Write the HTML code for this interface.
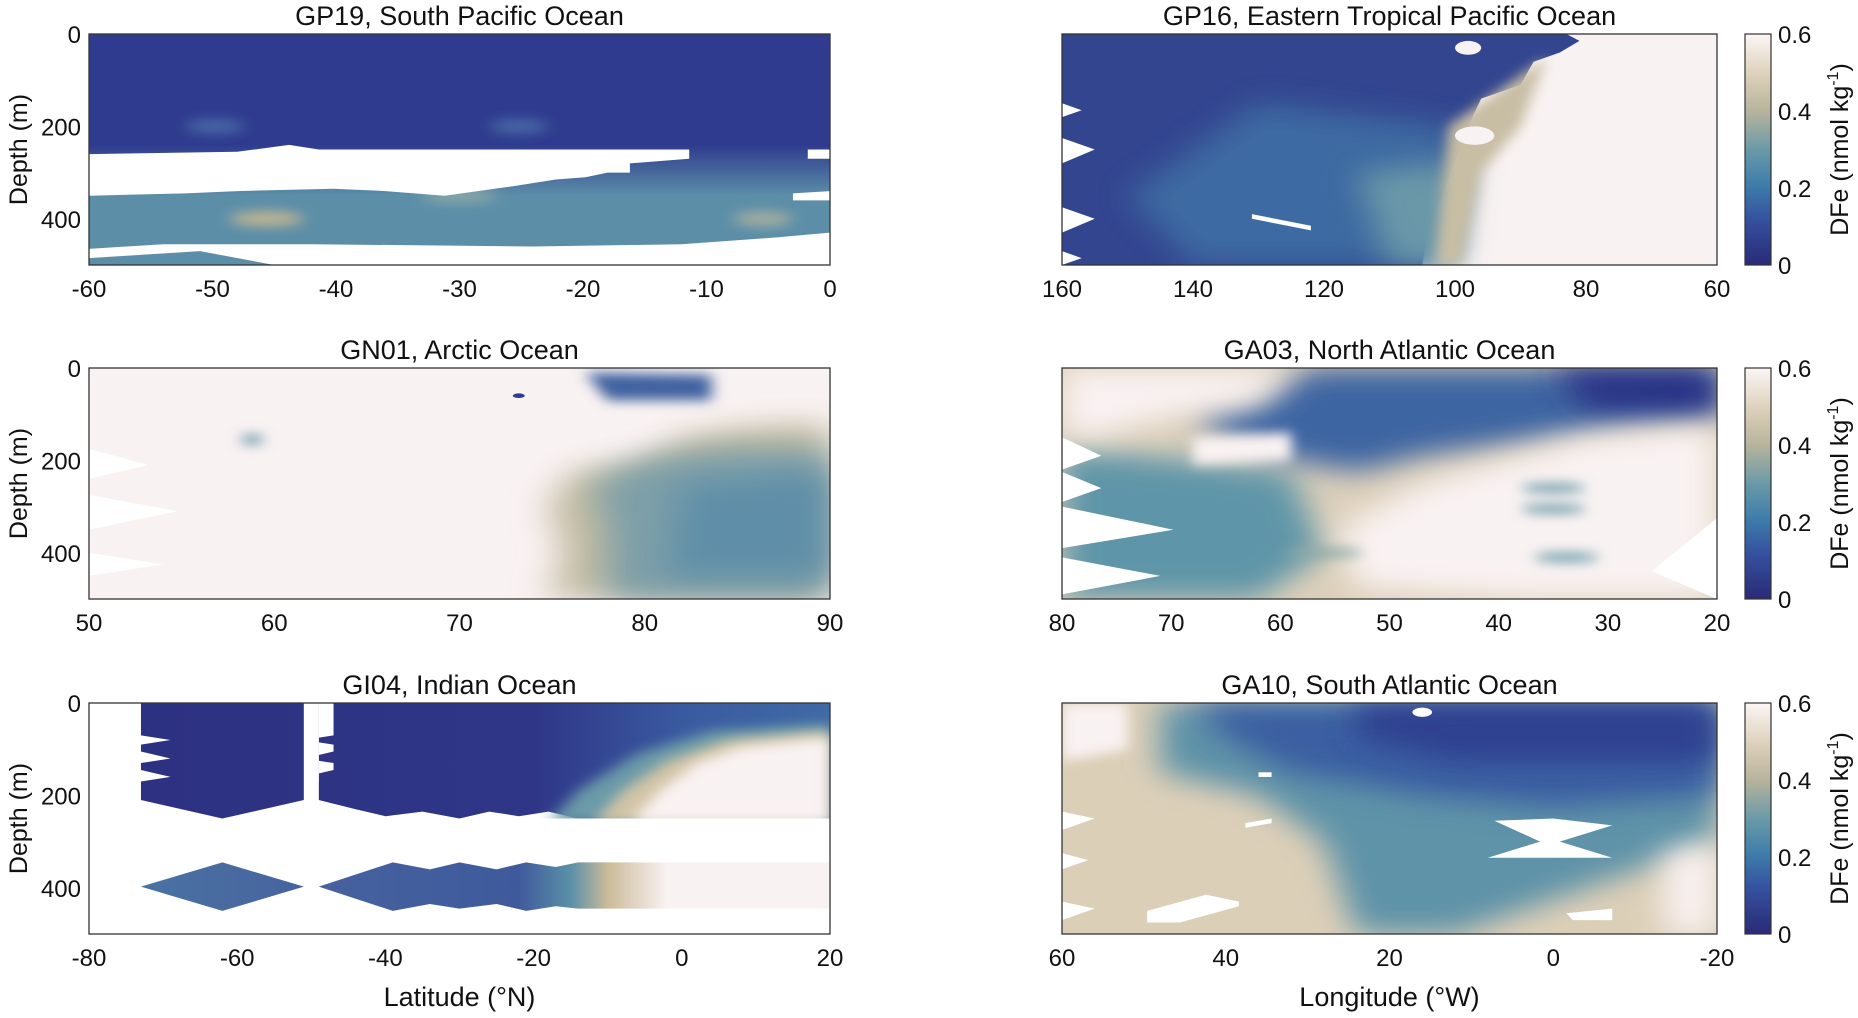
<!DOCTYPE html><html><head><meta charset="utf-8"><style>
html,body{margin:0;padding:0;background:#fff;}
svg text{font-family:"Liberation Sans",sans-serif;fill:#111;}
</style></head><body>
<svg id="s" width="1858" height="1013" xmlns="http://www.w3.org/2000/svg">
<defs>
<filter id="b" filterUnits="userSpaceOnUse" x="-20" y="-20" width="140" height="140"><feGaussianBlur stdDeviation="1 2.5"/></filter>
<filter id="b2" filterUnits="userSpaceOnUse" x="-20" y="-20" width="140" height="140"><feGaussianBlur stdDeviation="2.5 6"/></filter>
<linearGradient id="cb" x1="0" y1="1" x2="0" y2="0">
<stop offset="0" stop-color="#2a2a78"/><stop offset="0.2" stop-color="#3552a0"/><stop offset="0.35" stop-color="#3f7eaa"/><stop offset="0.5" stop-color="#6a9aa8"/><stop offset="0.67" stop-color="#b8b49c"/><stop offset="0.82" stop-color="#ddd0ba"/><stop offset="1" stop-color="#fbf5f5"/></linearGradient>
<linearGradient id="gi1" gradientUnits="userSpaceOnUse" x1="0" y1="0" x2="100" y2="0"><stop offset="0" stop-color="#2d3080"/><stop offset="0.6" stop-color="#2f3688"/><stop offset="0.8" stop-color="#3a5aa0"/><stop offset="1" stop-color="#3f6aa6"/></linearGradient>
<linearGradient id="gi2" gradientUnits="userSpaceOnUse" x1="0" y1="0" x2="100" y2="0"><stop offset="0" stop-color="#4a78a4"/><stop offset="0.3" stop-color="#47629e"/><stop offset="0.58" stop-color="#3f5a9c"/><stop offset="0.65" stop-color="#5a90a8"/><stop offset="0.7" stop-color="#cbbb9a"/><stop offset="0.78" stop-color="#f9f2f2"/></linearGradient>
<linearGradient id="gp" gradientUnits="userSpaceOnUse" x1="0" y1="48" x2="0" y2="70"><stop offset="0" stop-color="#2f3b8e"/><stop offset="1" stop-color="#5c8ea8"/></linearGradient>
</defs>
<g id="g"></g>
</svg>
<script>
var S='';
var P='#f9f2f2';
function panel(x,y,w,h,content,title,xt,xl,yl,cbar){
 S+='<text x="'+(x+w/2)+'" y="'+(y-9)+'" font-size="27" text-anchor="middle">'+title+'</text>';
 S+='<svg x="'+x+'" y="'+y+'" width="'+w+'" height="'+h+'" viewBox="0 0 100 100" preserveAspectRatio="none">'+content+'</svg>';
 S+='<rect x="'+x+'" y="'+y+'" width="'+w+'" height="'+h+'" fill="none" stroke="#333" stroke-width="1.3"/>';
 if(yl){[0,200,400].forEach(function(d){var yy=y+d/500*h;S+='<text x="'+(x-8)+'" y="'+(yy+9)+'" font-size="24" text-anchor="end">'+d+'</text>';});
  S+='<text transform="translate('+(x-62)+','+(y+h/2)+') rotate(-90)" font-size="25" text-anchor="middle">Depth (m)</text>';}
 xt.forEach(function(t){var xx=x+t[0]*w;S+='<text x="'+xx+'" y="'+(y+h+32)+'" font-size="24" text-anchor="middle">'+t[1]+'</text>';});
 if(xl)S+='<text x="'+(x+w/2)+'" y="'+(y+h+72)+'" font-size="27" text-anchor="middle">'+xl+'</text>';
 if(cbar){var cx=1745;S+='<rect x="'+cx+'" y="'+y+'" width="26" height="'+h+'" fill="url(#cb)" stroke="#333" stroke-width="1.2"/>';
  [0,0.2,0.4,0.6].forEach(function(v){var yy=y+h-v/0.6*h;S+='<text x="'+(cx+33)+'" y="'+(yy+9)+'" font-size="24">'+v+'</text>';});
  S+='<text transform="translate('+1848+','+(y+h/2)+') rotate(-90)" font-size="25" text-anchor="middle">DFe (nmol kg<tspan dy="-10" font-size="16">-1</tspan><tspan dy="10">)</tspan></text>';}
}
function ticks(a,b,step){var r=[];for(var v=a;(step>0?v<=b:v>=b);v+=step){r.push([(v-a)/(b-a),v]);}return r;}
var L=89,LW=741,R=1062,RW=655,T=[34,368,703],H=231;
// GP19
var c1='<rect width="100" height="100" fill="#2f3b8e"/>'+
'<rect y="48" width="100" height="52" fill="url(#gp)"/>'+
'<ellipse cx="24" cy="80" rx="5" ry="3" fill="#c8b890" filter="url(#b)"/><ellipse cx="91" cy="80" rx="4" ry="3" fill="#a9b0a0" filter="url(#b)"/><ellipse cx="50" cy="70" rx="5" ry="3" fill="#8aa8a8" filter="url(#b)"/>'+
'<ellipse cx="17" cy="40" rx="4" ry="3" fill="#4a6aa8" filter="url(#b)"/><ellipse cx="58" cy="40" rx="4" ry="3" fill="#4a6aa8" filter="url(#b)"/>'+
'<polygon fill="#fff" points="0,52 20,51 27,48 31,50 81,50 81,54 73,56 73,60 70,60 67,62 63,63 57,66 48,70 40,68 33,67 20,68 13,69 0,70"/>'+
'<polygon fill="#fff" points="97,50 100,50 100,54 97,54"/><polygon fill="#fff" points="95,69 100,68 100,72 95,72"/>'+
'<polygon fill="#fff" points="0,93 10,91 30,91 60,92 80,91 93,88 100,86 100,100 25,100 15,94 0,97"/>';
panel(L,T[0],LW,H,c1,'GP19, South Pacific Ocean',ticks(-60,0,10),'',1,0);
// GP16
var c2='<rect width="100" height="100" fill="'+P+'"/>'+
'<path d="M0,0 L77,0 L79,3 L76,8 L72,12 L70,22 L64,28 L62,40 L60,55 L58,70 L56,85 L55,100 L0,100Z" fill="#33458f"/>'+
'<path d="M30,30 L60,40 L58,100 L20,100 L10,70 Z" fill="#3e6aa2" filter="url(#b2)"/>'+
'<path d="M45,60 L62,55 L60,100 L50,100 Z" fill="#6a98a8" filter="url(#b2)"/>'+
'<path d="M59,40 L63,32 L66,26 L70,18 L74,10 L70,40 L64,60 L61,100 L57,100 Z" fill="#c8bea4" filter="url(#b)"/>'+
'<ellipse cx="63" cy="44" rx="3" ry="4" fill="'+P+'"/><ellipse cx="62" cy="6" rx="2" ry="3" fill="'+P+'"/>'+
'<polygon fill="#fff" points="0,30 3,33 0,36"/><polygon fill="#fff" points="0,45 5,50 0,56"/><polygon fill="#fff" points="0,75 5,80 0,86"/><polygon fill="#fff" points="0,94 3,97 0,100"/><polygon fill="#fff" points="29,78 38,83 38,85 29,80"/>';
panel(R,T[0],RW,H,c2,'GP16, Eastern Tropical Pacific Ocean',ticks(160,60,-20),'',0,1);
// GN01
var c3='<rect width="100" height="100" fill="'+P+'"/>'+
'<path d="M75,40 L80,30 L90,25 L100,24 L100,100 L62,100 L64,80 L62,60 L65,45Z" fill="#c2bba2" filter="url(#b2)"/>'+
'<path d="M75,40 L85,35 L100,35 L100,100 L70,100 L70,70 L68,50 Z" fill="#7d9fa8" filter="url(#b2)"/>'+
'<path d="M80,50 L100,45 L100,90 L78,90Z" fill="#5e8ea8" filter="url(#b2)"/>'+
'<path d="M67,2 L84,3 L84,14 L70,14 Z" fill="#3f62a0" filter="url(#b)"/>'+
'<ellipse cx="22" cy="31" rx="1.5" ry="2" fill="#5a88a0" filter="url(#b)"/><ellipse cx="58" cy="12" rx="0.8" ry="1" fill="#2f3b8e"/>'+
'<polygon fill="#fff" points="0,35 8,42 0,48"/><polygon fill="#fff" points="0,55 12,62 0,70"/><polygon fill="#fff" points="0,80 10,85 0,90"/>';
panel(L,T[1],LW,H,c3,'GN01, Arctic Ocean',ticks(50,90,10),'',1,0);
// GA03
var c4='<rect width="100" height="100" fill="#ddd0ba"/>'+
'<path d="M0,35 L20,40 L35,45 L40,80 L30,100 L0,100Z" fill="#5f95a8" filter="url(#b2)"/>'+
'<path d="M38,0 L100,0 L100,20 L85,25 L70,32 L55,38 L45,45 L35,40 L25,30 L20,20 L30,15Z" fill="#3d65a2" filter="url(#b2)"/>'+
'<path d="M75,0 L100,0 L100,20 L80,18Z" fill="#2c3385" filter="url(#b2)"/>'+
'<path d="M0,0 L35,0 L30,15 L15,22 L5,30 L0,30Z" fill="'+P+'" filter="url(#b2)"/>'+
'<path d="M20,30 L35,28 L35,40 L20,42Z" fill="'+P+'" filter="url(#b)"/>'+
'<path d="M55,50 L80,30 L100,25 L100,100 L70,100 L45,95 L42,70Z" fill="'+P+'" filter="url(#b2)"/>'+
'<ellipse cx="75" cy="52" rx="5" ry="2" fill="#6a9aa8" filter="url(#b)"/><ellipse cx="75" cy="61" rx="5" ry="2" fill="#6a9aa8" filter="url(#b)"/><ellipse cx="77" cy="82" rx="5" ry="2" fill="#6a9aa8" filter="url(#b)"/><ellipse cx="40" cy="80" rx="6" ry="2" fill="#8fa8a8" filter="url(#b)"/>'+
'<polygon fill="#fff" points="0,30 6,38 0,44"/><polygon fill="#fff" points="0,45 6,52 0,58"/><polygon fill="#fff" points="0,60 17,70 0,78"/><polygon fill="#fff" points="0,82 15,90 0,98"/><polygon fill="#fff" points="100,65 90,88 100,100"/>';
panel(R,T[1],RW,H,c4,'GA03, North Atlantic Ocean',ticks(80,20,-10),'',0,1);
// GI04
var c5='<rect width="100" height="100" fill="#fff"/>'+
'<polygon fill="url(#gi1)" points="31,0 100,0 100,50 66,50 62,47 58,49 54,47 50,50 45,47 40,49 36,46 31,42"/>'+
'<polygon fill="url(#gi1)" points="7,0 29,0 29,42 18,50 7,42"/>'+
'<path d="M62,52 L66,38 L74,22 L84,12 L100,9 L100,20 L80,30 L72,52Z" fill="#6a9aa8" filter="url(#b)"/>'+
'<path d="M68,52 L72,38 L78,25 L86,16 L100,12 L100,52Z" fill="#d2c4a6" filter="url(#b)"/>'+
'<path d="M73,52 L77,38 L82,26 L88,19 L100,15 L100,52Z" fill="'+P+'" filter="url(#b)"/>'+
'<rect x="60" y="50" width="40" height="19" fill="#fff"/>'+
'<polygon fill="#fff" points="29,0 31,0 31,50 29,50"/>'+
'<polygon fill="#fff" points="5,0 7,0 7,14 11,16 7,18 7,21 11,24 7,26 7,29 11,32 7,34 7,42 5,42"/>'+
'<polygon fill="#fff" points="31,0 33,0 33,14 29,16 33,18 33,21 29,24 33,26 33,29 29,32 31,34 31,42"/>'+
'<polygon fill="url(#gi2)" points="7,79.5 18,69 29,79.5 18,90"/>'+
'<polygon fill="url(#gi2)" points="31,79.5 41,69 46,72 50,69 55,72 59,69 63,71 66,69 100,69 100,89 66,89 63,88 59,90 55,87 50,89 46,87 41,90"/>';
panel(L,T[2],LW,H,c5,'GI04, Indian Ocean',ticks(-80,20,20),'Latitude (°N)',1,0);
// GA10
var c6='<rect width="100" height="100" fill="#dccfb8"/>'+
'<path d="M15,0 L100,0 L100,60 L90,70 L80,80 L60,100 L45,100 L40,60 L30,40 L15,30Z" fill="#5f93a8" filter="url(#b2)"/>'+
'<path d="M20,0 L100,0 L100,40 L75,45 L55,40 L35,30 L25,15Z" fill="#3a5fa2" filter="url(#b2)"/>'+
'<path d="M45,0 L100,0 L100,25 L60,25 L45,15Z" fill="#2f4190" filter="url(#b2)"/>'+
'<path d="M0,0 L10,0 L10,20 L0,25Z" fill="'+P+'" filter="url(#b)"/>'+
'<path d="M92,65 L100,60 L100,100 L92,100Z" fill="'+P+'" filter="url(#b2)"/>'+
'<ellipse cx="55" cy="4" rx="1.5" ry="2" fill="#fff"/>'+
'<polygon fill="#fff" points="0,47 5,50 0,55"/><polygon fill="#fff" points="0,65 4,68 0,72"/><polygon fill="#fff" points="0,86 5,89 0,94"/><polygon fill="#fff" points="13,90 22,83 27,86 27,88 18,95 13,95"/><polygon fill="#fff" points="66,51 75,50 84,53 76,60 84,67 65,67 73,60"/><polygon fill="#fff" points="77,91 84,89 84,94 78,94"/><polygon fill="#fff" points="30,30 32,30 32,32 30,32"/><polygon fill="#fff" points="28,52 32,50 32,52 28,54"/>';
panel(R,T[2],RW,H,c6,'GA10, South Atlantic Ocean',ticks(60,-20,-20),'Longitude (°W)',0,1);
document.getElementById('g').innerHTML=S;
</script>
</body></html>
